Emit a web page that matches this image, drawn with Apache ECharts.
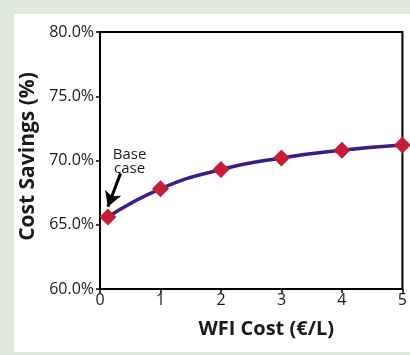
<!DOCTYPE html>
<html><head><meta charset="utf-8">
<script src="https://cdn.jsdelivr.net/npm/echarts@6/dist/echarts.min.js"></script>
<style>html,body{margin:0;padding:0;background:#e0eada;}#c{width:410px;height:355px;}</style>
</head><body><div id="c"></div>
<script>
const wfiCost = [0.13, 1, 2, 3, 4, 5];
const costSavings = [65.6, 67.8, 69.3, 70.2, 70.8, 71.2];
const yTicks = [60, 65, 70, 75, 80];
const xTicks = [0, 1, 2, 3, 4, 5];
const annotationText = 'Base\ncase';
const annotationPos = [0.49, 69.9];
const arrowFrom = [0.34, 69.0];
const arrowTo = [0.13, 66.4];

const font = 'Open Sans';
const chart = echarts.init(document.getElementById('c'));
chart.setOption({
  animation: false,
  backgroundColor: '#e0eada',
  graphic: [{ type: 'rect', shape: { x: 14, y: 14, width: 396, height: 338 }, style: { fill: '#ffffff' }, z: -10 }],
  grid: { left: 100, right: 5, top: 32, bottom: 66, show: true, borderColor: '#000', borderWidth: 2, backgroundColor: 'transparent' },
  xAxis: {
    type: 'value', min: 0, max: 5, interval: 1,
    name: 'WFI Cost (€/L)', nameLocation: 'middle', nameGap: 30,
    nameTextStyle: { fontFamily: font, fontWeight: 'bold', fontSize: 20, color: '#1a1a1a', padding: [0, 0, 0, 30] },
    axisLine: { lineStyle: { color: '#000', width: 2 } },
    axisTick: { show: true, length: 4, lineStyle: { color: '#000', width: 1.5 } },
    axisLabel: { fontFamily: font, fontSize: 16, color: '#1a1a1a', margin: 3 },
    splitLine: { show: false }
  },
  yAxis: {
    type: 'value', min: 60, max: 80, interval: 5,
    name: 'Cost Savings (%)', nameLocation: 'middle', nameGap: 55,
    nameTextStyle: { fontFamily: font, fontWeight: 'bold', fontSize: 21, color: '#1a1a1a', padding: [0, 0, 0, 8] },
    axisLine: { show: true, lineStyle: { color: '#000', width: 2 } },
    axisTick: { show: true, length: 4, lineStyle: { color: '#000', width: 1.5 } },
    axisLabel: { fontFamily: font, fontSize: 16, color: '#1a1a1a', margin: 6, formatter: v => v.toFixed(1) + '%' },
    splitLine: { show: false }
  },
  series: [{
    type: 'line',
    data: wfiCost.map((x, i) => [x, costSavings[i]]),
    smooth: true,
    lineStyle: { color: '#3a1d86', width: 3.5 },
    symbol: 'diamond', symbolSize: 17,
    itemStyle: { color: '#c41e3a', borderWidth: 0 },
    markPoint: {
      symbol: 'circle', symbolSize: 1, itemStyle: { color: 'transparent' },
      data: [{ coord: annotationPos, label: { show: true, formatter: annotationText, fontFamily: font, fontSize: 15, color: '#1a1a1a', lineHeight: 14, position: 'inside' } }]
    },
    markLine: {
      silent: true, symbol: ['none', 'arrow'], symbolSize: [13, 15],
      lineStyle: { color: '#000', width: 3, type: 'solid' },
      label: { show: false },
      data: [[{ coord: arrowFrom }, { coord: arrowTo }]]
    }
  }]
});
</script></body></html>
